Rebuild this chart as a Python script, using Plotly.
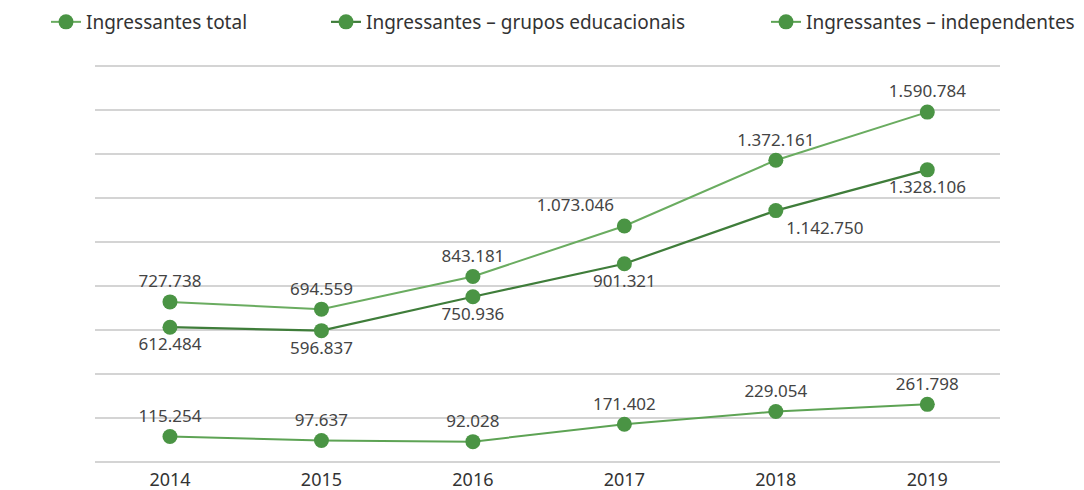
import plotly.graph_objects as go

anos = [2014, 2015, 2016, 2017, 2018, 2019]
total = [727738, 694559, 843181, 1073046, 1372161, 1590784]
grupos = [612484, 596837, 750936, 901321, 1142750, 1328106]
independentes = [115254, 97637, 92028, 171402, 229054, 261798]

def fmt(v):
    return f"{v:,}".replace(",", ".")

# page body has an 8px margin, so the figure is sized to fill the rest of the window
W, H = 1076, 482

marker_color = "#4a9444"
FAM = "Noto Sans, Open Sans, sans-serif"
font = dict(family=FAM, size=17, color="#444444")

fig = go.Figure()
fig.add_trace(go.Scatter(
    x=anos, y=total, name="Ingressantes total", mode="lines+markers+text",
    line=dict(color="#6aac60", width=2),
    marker=dict(color=marker_color, size=15),
    text=[fmt(v) for v in total],
    textposition=["top center", "top center", "top center", "top left", "top center", "top center"],
    textfont=font, cliponaxis=False, legend="legend2",
))
fig.add_trace(go.Scatter(
    x=anos, y=grupos, name="Ingressantes – grupos educacionais", mode="lines+markers+text",
    line=dict(color="#3f7d3a", width=2.2),
    marker=dict(color=marker_color, size=15),
    text=[fmt(v) for v in grupos],
    textposition=["bottom center", "bottom center", "bottom center", "bottom center", "bottom right", "bottom center"],
    textfont=font, cliponaxis=False, legend="legend3",
))
fig.add_trace(go.Scatter(
    x=anos, y=independentes, name="Ingressantes – independentes", mode="lines+markers+text",
    line=dict(color="#5da354", width=2),
    marker=dict(color=marker_color, size=15),
    text=[fmt(v) for v in independentes],
    textposition="top center",
    textfont=font, cliponaxis=False, legend="legend4",
))

leg_font = dict(family=FAM, size=19, color="#333333")
def leg(xpx):
    return dict(orientation="h", xref="container", x=xpx / W, xanchor="left",
                yref="container", y=1 - 14 / H, yanchor="middle", font=leg_font,
                bgcolor="rgba(0,0,0,0)")

fig.update_layout(
    width=W, height=H,
    margin=dict(l=87, r=84, t=57, b=27, autoexpand=False),
    plot_bgcolor="white", paper_bgcolor="white",
    font=font,
    legend2=leg(38), legend3=leg(318), legend4=leg(758),
    xaxis=dict(range=[2013.505, 2019.48], tickvals=anos, ticktext=[str(a) for a in anos],
               showgrid=False, zeroline=False, showline=False, automargin=False,
               ticklabelstandoff=4,
               tickfont=dict(family=FAM, size=18, color="#333333")),
    yaxis=dict(range=[-5000, 1805000], tickvals=[i * 200000 for i in range(10)],
               showticklabels=False, automargin=False,
               showgrid=True, gridcolor="#d4d4d4", gridwidth=1.5,
               zeroline=True, zerolinecolor="#d4d4d4", zerolinewidth=1.5, showline=False),
)
fig.write_html("out.html")
